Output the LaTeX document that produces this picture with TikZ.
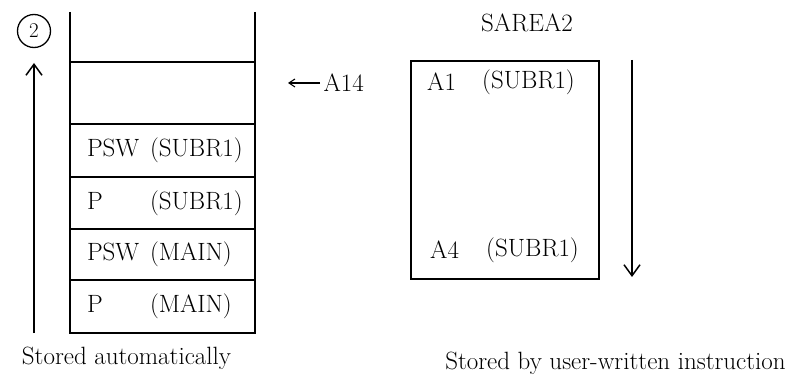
\documentclass[tikz,border=0pt]{standalone}
\usepackage{fontspec}
\usetikzlibrary{shapes, arrows, arrows.meta}

\newcommand{\slot}[2]{\makebox[63pt][l]{#1}#2}

\begin{document}
\begin{tikzpicture}[x=1pt, y=-1pt,
  every node/.style={font=\fontsize{25}{30}\selectfont},
  cell/.style={draw, rectangle, line width=1.6pt, minimum width=185pt, inner sep=0pt,
    outer sep=0pt, text width=151pt, inner xsep=17pt, align=left},
  flow/.style={line width=1.5pt, -{Straight Barb[length=11pt, width=16pt, line width=1.5pt]}}]
\useasboundingbox (0,0) rectangle (807,377);

\node[draw, circle, line width=1.3pt, minimum size=33pt, inner sep=0pt, font=\fontsize{21}{24}\selectfont] (n2) at (34, 31) {2};

\coordinate (tl) at (70, 12);
\coordinate (tr) at (255, 12);
\node[cell, minimum height=62pt] (c1) at (162.5, 93) {};
\node[cell, minimum height=53pt] (c2) at (162.5, 150.5) {\slot{PSW}{(SUBR1)}};
\node[cell, minimum height=52pt] (c3) at (162.5, 203) {\slot{P}{(SUBR1)}};
\node[cell, minimum height=51pt] (c4) at (162.5, 254.5) {\slot{PSW}{(MAIN)}};
\node[cell, minimum height=53pt] (c5) at (162.5, 306.5) {\slot{P}{(MAIN)}};
\draw[line width=1.6pt] (tl) -- (c1.north west);
\draw[line width=1.6pt] (tr) -- (c1.north east);

\node[anchor=west] (a14) at (320, 83) {A14};
\coordinate (a14tip) at (288, 83);
\draw[line width=1.1pt, -{Straight Barb[length=6pt, width=8pt]}] (a14) -- (a14tip);

\coordinate (upbot) at (34, 333);
\coordinate (uptop) at (34, 63);
\draw[flow] (upbot) -- (uptop);
\node (auto) at (126.5, 358) {Stored automatically};

\node (sarea) at (527, 23) {SAREA2};
\node[draw, rectangle, line width=1.6pt, minimum width=188pt, minimum height=218pt] (box) at (505, 170) {};
\node[anchor=west, inner sep=0pt] (a1) at (427, 82) {A1};
\node[anchor=west, inner sep=0pt] (a1s) at (482, 82) {(SUBR1)};
\node[anchor=west, inner sep=0pt] (a4) at (430, 250) {A4};
\node[anchor=west, inner sep=0pt] (a4s) at (486, 250) {(SUBR1)};

\coordinate (dntop) at (632, 60);
\coordinate (dnbot) at (632, 277);
\draw[flow] (dntop) -- (dnbot);
\node (user) at (615.5, 363) {Stored by user-written instruction};
\end{tikzpicture}
\end{document}
